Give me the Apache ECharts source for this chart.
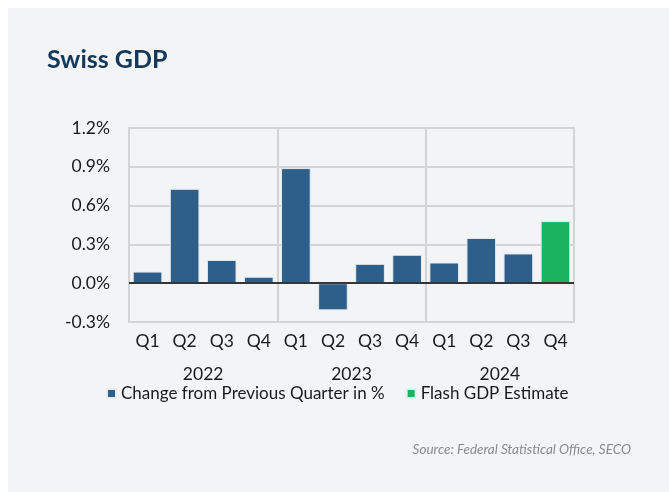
<!DOCTYPE html>
<html>
<head>
<meta charset="utf-8">
<script src="https://cdn.jsdelivr.net/npm/echarts@6/dist/echarts.min.js"></script>
<style>
html,body{margin:0;padding:0;background:#fff;}
#c{width:669px;height:492px;}
</style>
</head>
<body>
<div id="c"></div>
<script>
const quarters = ['Q1','Q2','Q3','Q4','Q1','Q2','Q3','Q4','Q1','Q2','Q3','Q4'];
const years = ['2022','2023','2024'];
const changeQoQ = [0.09, 0.73, 0.18, 0.05, 0.89, -0.21, 0.15, 0.22, 0.16, 0.35, 0.23, null];
const flashEstimate = [null, null, null, null, null, null, null, null, null, null, null, 0.48];
const yTicks = [-0.3, 0, 0.3, 0.6, 0.9, 1.2];

const font = 'Lato, "Open Sans", sans-serif';
const fs = 17.5;
const chart = echarts.init(document.getElementById('c'), null, {renderer:'canvas'});
chart.setOption({
  backgroundColor: '#ffffff',
  animation: false,
  graphic: [{
    type: 'rect', z: -10, silent: true,
    shape: {x: 8, y: 8, width: 700, height: 520},
    style: {fill: '#f3f4f6'}
  }, {
    type: 'text', right: 38, top: 443,
    style: {text: 'Source: Federal Statistical Office, SECO', fill: '#8a8a8a', fontSize: 13.5, fontStyle: 'italic', fontFamily: font}
  }],
  title: {
    text: 'Swiss GDP', left: 42, top: 42,
    textStyle: {fontSize: 25, fontWeight: 'bold', color: '#12385a', fontFamily: font}
  },
  legend: {
    top: 380, left: 101,
    itemWidth: 9, itemHeight: 9, itemGap: 21,
    icon: 'rect',
    textStyle: {fontSize: 17, color: '#1a1a1a', fontFamily: font},
    data: ['Change from Previous Quarter in %', 'Flash GDP Estimate']
  },
  grid: {left: 129, right: 95, top: 128, bottom: 170, show: true, borderColor: '#d4d4d4', borderWidth: 2, backgroundColor: 'transparent'},
  xAxis: [{
    type: 'category', data: quarters, position: 'bottom',
    axisLine: {show: false}, axisTick: {show: false},
    axisLabel: {fontSize: fs, color: '#1a1a1a', fontFamily: font, margin: 10}
  }, {
    type: 'category', data: years, position: 'bottom', offset: 33,
    axisLine: {show: false}, axisTick: {show: false},
    axisLabel: {fontSize: fs, color: '#1a1a1a', fontFamily: font, margin: 10},
    splitLine: {show: true, lineStyle: {color: '#d4d4d4', width: 2}}
  }],
  yAxis: {
    type: 'value', min: -0.3, max: 1.2, interval: 0.3,
    axisLine: {show: false}, axisTick: {show: false},
    axisLabel: {fontSize: fs, color: '#1a1a1a', fontFamily: font, margin: 19,
      formatter: v => v.toFixed(1) + '%'},
    splitLine: {lineStyle: {color: '#d4d4d4', width: 2}}
  },
  series: [{
    name: 'Change from Previous Quarter in %', type: 'bar', stack: 'g',
    data: changeQoQ, barWidth: '80%',
    itemStyle: {color: '#2d5f8a', borderColor: '#e6ecf1', borderWidth: 1},
    markLine: {
      silent: true, symbol: 'none', label: {show: false},
      lineStyle: {color: '#000', width: 1.5, type: 'solid'},
      data: [{yAxis: 0}]
    }
  }, {
    name: 'Flash GDP Estimate', type: 'bar', stack: 'g',
    data: flashEstimate, barWidth: '80%',
    itemStyle: {color: '#1bb360', borderColor: '#e6ecf1', borderWidth: 1}
  }]
});
</script>
</body>
</html>
